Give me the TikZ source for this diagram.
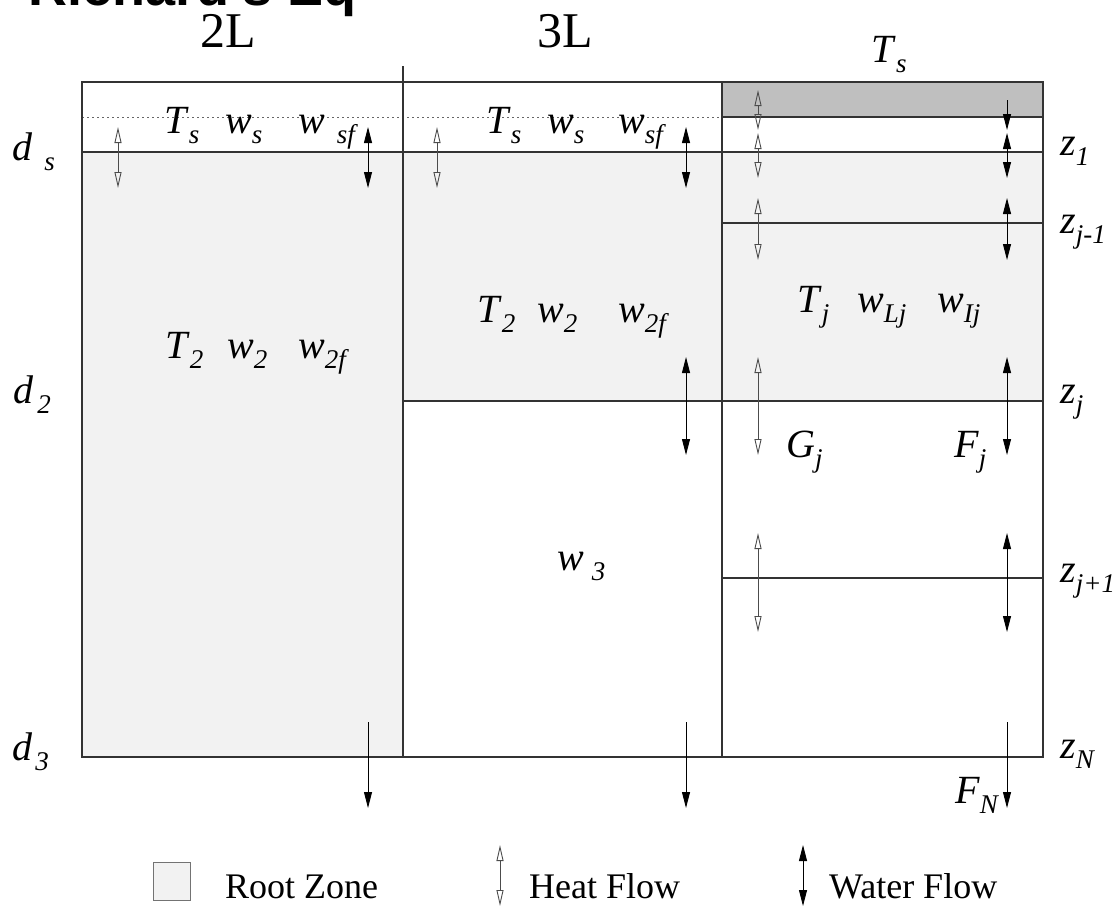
\documentclass[tikz,border=0pt]{standalone}
\usepackage{fontspec}
\setmainfont{Liberation Serif}
\newfontfamily\titlefont{Liberation Sans}
\usetikzlibrary{arrows.meta,positioning}

% italic variable with a lowered subscript
\newcommand{\vsub}[3][0pt]{\textit{#2}\hspace{#1}\raisebox{-10pt}{\fontsize{27}{30}\selectfont\textit{#3}}}

\begin{document}
\begin{tikzpicture}[x=1pt,y=-1pt,
    wall/.style={draw=black!80,line width=1.4pt},
    rootzone/.style={fill=black!5},
    topsoil/.style={fill=black!25},
    var/.style={inner sep=0pt,anchor=base west,font=\fontsize{40}{44}\selectfont},
    colhead/.style={inner sep=0pt,anchor=base,font=\fontsize{50}{56}\selectfont},
    legtext/.style={inner sep=0pt,anchor=base west,font=\fontsize{36}{40}\selectfont},
    heat/.style={draw=black!70,line width=0.9pt,{Triangle[open,length=16pt,width=7pt]}-{Triangle[open,length=16pt,width=7pt]}},
    water/.style={draw=black,line width=0.9pt,{Triangle[length=16pt,width=8pt]}-{Triangle[length=16pt,width=8pt]}},
    drain/.style={draw=black,line width=0.9pt,-{Triangle[length=16pt,width=8pt]}}]
  \useasboundingbox (0,0) rectangle (1116,906);
  \clip (0,0) rectangle (1116,906);

  % cut-off slide title
  \node[inner sep=0pt,anchor=base east,font=\titlefont\bfseries\fontsize{54}{60}\selectfont] (title) at (357,5) {Richard's Eq};

  % shaded zones
  \fill[rootzone] (82,152) rectangle (403,757);
  \fill[rootzone] (403,152) rectangle (1043,401);
  \fill[topsoil] (722,82) rectangle (1043,117);

  % layer boundaries
  \draw[draw=black!60,line width=0.9pt,dash pattern=on 2pt off 3pt] (82,117) -- (722,117);
  \draw[wall] (82,82) rectangle (1043,757);
  \draw[wall] (403,66) -- (403,757);
  \draw[wall] (722,82) -- (722,757);
  \draw[wall] (722,117) -- (1043,117);
  \draw[wall] (82,152) -- (1043,152);
  \draw[wall] (722,223) -- (1043,223);
  \draw[wall] (403,401) -- (1043,401);
  \draw[wall] (722,578) -- (1043,578);

  % column headings
  \node[colhead] (two) at (228,47) {2L};
  \node[colhead] (three) at (565,47) {3L};
  \node[var,anchor=base] (tsurf) at (889,62) {\vsub{T}{s}};

  % depths
  \node[var] (ds) at (12,160) {\vsub[12pt]{d}{s}};
  \node[var] (d2) at (13,403) {\vsub[4pt]{d}{2}};
  \node[var] (d3) at (12,760) {\vsub[3pt]{d}{3}};
  \node[var] (z1) at (1060,155) {\vsub{z}{1}};
  \node[var] (zjm) at (1060,233) {\vsub{z}{j-1}};
  \node[var] (zj) at (1060,403) {\vsub{z}{j}};
  \node[var] (zjp) at (1060,582) {\vsub{z}{j+1}};
  \node[var] (zN) at (1060,758) {\vsub{z}{N}};

  % 2L column
  \node[var] (tsA) at (164,133) {\vsub{T}{s}};
  \node[var] (wsA) at (225,133) {\vsub{w}{s}};
  \node[var] (wsfA) at (298,133) {\vsub[12pt]{w}{sf}};
  \node[var] (t2A) at (165,358) {\vsub{T}{2}};
  \node[var] (w2A) at (227,358) {\vsub{w}{2}};
  \node[var] (w2fA) at (298,358) {\vsub{w}{2f}};

  % 3L column
  \node[var] (tsB) at (486,133) {\vsub{T}{s}};
  \node[var] (wsB) at (547,133) {\vsub{w}{s}};
  \node[var] (wsfB) at (618,133) {\vsub{w}{sf}};
  \node[var] (t2B) at (477,322) {\vsub{T}{2}};
  \node[var] (w2B) at (537,322) {\vsub{w}{2}};
  \node[var] (w2fB) at (618,322) {\vsub{w}{2f}};
  \node[var] (w3B) at (557,570) {\vsub[8pt]{w}{3}};

  % multi-layer column
  \node[var] (tj) at (797,312) {\vsub{T}{j}};
  \node[var] (wlj) at (857,312) {\vsub{w}{Lj}};
  \node[var] (wij) at (937,312) {\vsub{w}{Ij}};
  \node[var] (gj) at (786,457) {\vsub{G}{j}};
  \node[var] (fj) at (954,457) {\vsub{F}{j}};
  \node[var] (fn) at (955,803) {\vsub{F}{N}};

  % fluxes
  \draw[heat] (118,127) -- (118,188);
  \draw[water] (368,127) -- (368,188);
  \draw[heat] (437,127) -- (437,188);
  \draw[water] (686,127) -- (686,188);
  \draw[water] (686,357) -- (686,455);
  \draw[heat] (758,90) -- (758,130);
  \draw[heat] (758,133) -- (758,178);
  \draw[drain] (1007,100) -- (1007,130);
  \draw[water] (1007,133) -- (1007,178);
  \foreach \a/\b in {198/260,357/455,533/632} {
    \draw[heat] (758,\a) -- (758,\b);
    \draw[water] (1007,\a) -- (1007,\b);
  }
  \foreach \x in {368,686,1007}
    \draw[drain] (\x,722) -- (\x,808);

  % legend
  \draw[draw=black!55,line width=1pt,rootzone] (153,862) rectangle (190,900);
  \node[legtext] (rz) at (225,898) {Root Zone};
  \draw[heat] (500,845) -- (500,906);
  \node[legtext] (hf) at (529,898) {Heat Flow};
  \draw[water] (803,845) -- (803,906);
  \node[legtext] (wf) at (829,898) {Water Flow};
\end{tikzpicture}
\end{document}
